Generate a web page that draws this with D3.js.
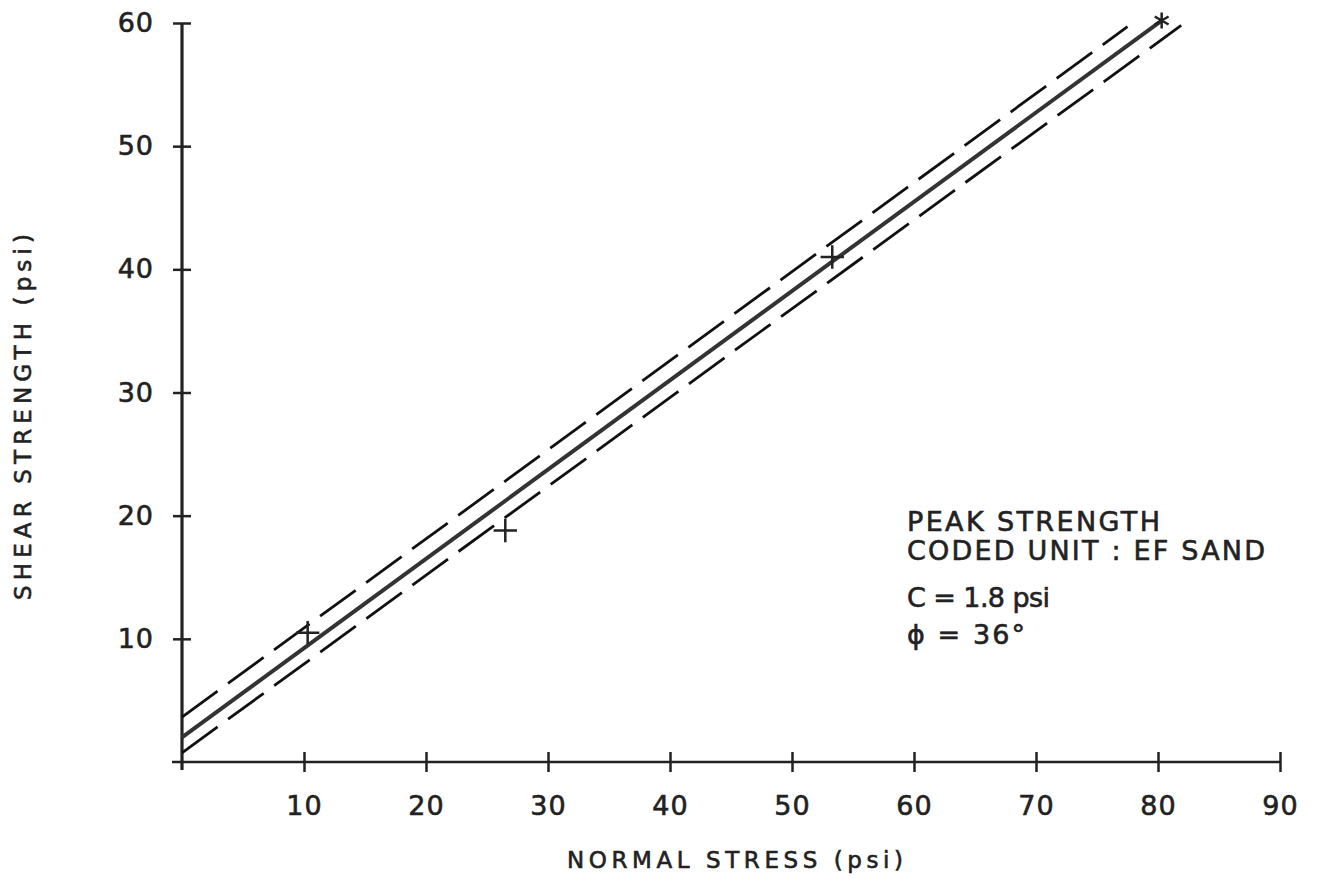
<!DOCTYPE html>
<html lang="en">

<head>
    <meta charset="UTF-8">
    <title>Peak strength - EF sand</title>
    <script src="https://cdn.jsdelivr.net/npm/d3@7"></script>
    <style>
        body { margin: 0; background: #fff; }
        text { font-family: "DejaVu Sans", sans-serif; fill: #222; stroke: #222; stroke-width: 0.6px; }
    </style>
</head>

<body>
    <svg id="chart"></svg>

    <script>
        // data
        const xTicks = [10, 20, 30, 40, 50, 60, 70, 80, 90]
        const yTicks = [10, 20, 30, 40, 50, 60]
        const testStress = [10.3, 26.5, 53.3, 80.3]
        const testShear = [10.5, 18.8, 41.0, 60.2]
        const testMark = ['plus', 'plus', 'plus', 'star']
        // fitted envelope and its bounds (normal stress, shear strength)
        const fitLine = [[0, 2.0], [80.3, 60.2]]
        const upperBound = [[0, 3.65], [77.5, 59.7]]
        const lowerBound = [[0, 0.75], [81.9, 59.8]]
        const notes = ['PEAK STRENGTH', 'CODED UNIT : EF  SAND', 'C = 1.8 psi', '\u03D5 = 36\u00B0']

        const width = 1321, height = 878
        const ink = '#222'

        const svg = d3.select('#chart')
            .attr('width', width)
            .attr('height', height)

        const x = d3.scaleLinear().domain([0, 90]).range([182, 1280])
        const y = d3.scaleLinear().domain([0, 60]).range([762, 23])

        // x axis: labels only, crossing ticks added below
        const gx = svg.append('g')
            .attr('transform', `translate(0,${y(0)})`)
            .call(d3.axisBottom(x).tickValues(xTicks).tickSize(0).tickPadding(34))
        gx.select('.domain').remove()
        gx.selectAll('text').style('font-size', '27px').attr('fill', ink).attr('letter-spacing', 1)
        gx.selectAll('.tick').append('line')
            .attr('y1', -10).attr('y2', 10)
            .attr('stroke', ink).attr('stroke-width', 2.5)

        const gy = svg.append('g')
            .attr('transform', `translate(${x(0)},0)`)
            .call(d3.axisLeft(y).tickValues(yTicks).tickSize(0).tickPadding(28))
        gy.select('.domain').remove()
        gy.selectAll('text').style('font-size', '27px').attr('fill', ink).attr('letter-spacing', 1)
        gy.selectAll('.tick').append('line')
            .attr('x1', -9).attr('x2', 9)
            .attr('stroke', ink).attr('stroke-width', 2.5)

        // axis lines
        svg.append('line')
            .attr('x1', x(0) - 10).attr('x2', x(90))
            .attr('y1', y(0)).attr('y2', y(0))
            .attr('stroke', ink).attr('stroke-width', 2.4)
        svg.append('line')
            .attr('x1', x(0)).attr('x2', x(0))
            .attr('y1', y(60)).attr('y2', y(0) + 8)
            .attr('stroke', ink).attr('stroke-width', 3.2)

        const line = d3.line().x(d => x(d[0])).y(d => y(d[1]))

        svg.append('path')
            .attr('d', line(fitLine))
            .attr('fill', 'none')
            .attr('stroke', '#333')
            .attr('stroke-width', 4)

        ;[upperBound, lowerBound].forEach(b => {
            svg.append('path')
                .attr('d', line(b))
                .attr('fill', 'none')
                .attr('stroke', '#111')
                .attr('stroke-width', 2.8)
                .attr('stroke-dasharray', '44,13')
        })

        // test points
        const pts = testStress.map((s, i) => ({ s, t: testShear[i], m: testMark[i] }))
        svg.selectAll('.pt')
            .data(pts)
            .join('path')
            .attr('class', 'pt')
            .attr('transform', d => `translate(${x(d.s)},${y(d.t)})`)
            .attr('d', d => d3.symbol(d.m === 'star' ? d3.symbolAsterisk : d3.symbolPlus, 180)())
            .attr('fill', 'none')
            .attr('stroke', ink)
            .attr('stroke-width', 2.5)

        // axis titles
        svg.append('text')
            .attr('x', 735).attr('y', 868)
            .attr('text-anchor', 'middle')
            .attr('textLength', 336).attr('lengthAdjust', 'spacing')
            .style('font-size', '23px')
            .text('NORMAL STRESS  (psi)')

        svg.append('text')
            .attr('transform', 'translate(31,417) rotate(-90)')
            .attr('text-anchor', 'middle')
            .attr('textLength', 366).attr('lengthAdjust', 'spacing')
            .style('font-size', '23px')
            .text('SHEAR  STRENGTH  (psi)')

        // annotation block
        const noteY = [531, 560, 607, 644]
        const noteLen = [253, 358, 143, 118]
        svg.selectAll('.note')
            .data(notes)
            .join('text')
            .attr('class', 'note')
            .attr('x', 907)
            .attr('y', (d, i) => noteY[i])
            .attr('textLength', (d, i) => noteLen[i])
            .attr('lengthAdjust', 'spacing')
            .style('font-size', '27px')
            .text(d => d)
    </script>
</body>

</html>
